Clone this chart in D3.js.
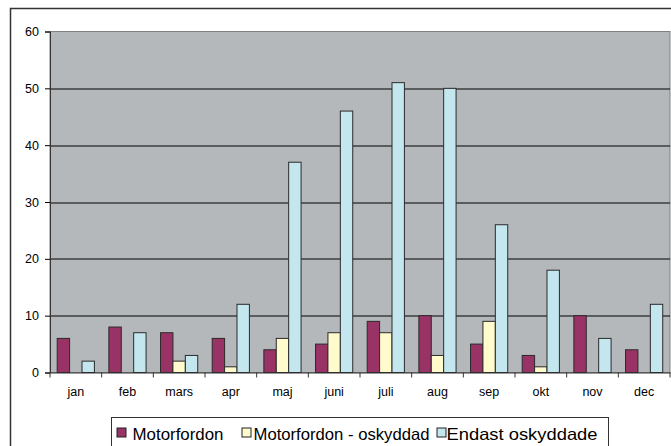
<!DOCTYPE html>
<html>
<head>
<meta charset="utf-8">
<script src="https://cdn.jsdelivr.net/npm/d3@7"></script>
<style>
  body { margin: 0; background: #fff; }
  svg { display: block; font-family: "Liberation Sans", Arial, sans-serif; }
</style>
</head>
<body>
<svg width="671" height="446"></svg>
<script>
const months = ['jan', 'feb', 'mars', 'apr', 'maj', 'juni', 'juli', 'aug', 'sep', 'okt', 'nov', 'dec'];
const seriesNames = ['Motorfordon', 'Motorfordon - oskyddad', 'Endast oskyddade'];
const motorfordon = [6, 8, 7, 6, 4, 5, 9, 10, 5, 3, 10, 4];
const motorOskyddad = [0, 0, 2, 1, 6, 7, 7, 3, 9, 1, 0, 0];
const endastOskyddade = [2, 7, 3, 12, 37, 46, 51, 50, 26, 18, 6, 12];
const yTicks = [0, 10, 20, 30, 40, 50, 60];
const colors = ['#993366', '#FFFBCC', '#C4E7EF'];

const svg = d3.select('svg');
const width = +svg.attr('width');
const height = +svg.attr('height');

const margin = { left: 50, right: 1, top: 31.5, bottom: 73.5 };
const innerWidth = width - margin.left - margin.right;
const innerHeight = height - margin.top - margin.bottom;

// outer chart frame (right and bottom edges fall outside the picture)
svg.append('rect')
  .attr('x', 10.5).attr('y', 8.5)
  .attr('width', width).attr('height', height)
  .attr('fill', 'none').attr('stroke', '#333').attr('stroke-width', 1.5);

const data = months.map((m, i) => ({
  month: m,
  values: [motorfordon[i], motorOskyddad[i], endastOskyddade[i]]
}));

const xScale = d3.scaleBand().domain(months).range([0, innerWidth]);
const xInner = d3.scaleBand().domain(d3.range(3))
  .range([7.2, 7.2 + 37.2]);
const yScale = d3.scaleLinear().domain([0, 60]).range([innerHeight, 0]);

const g = svg.append('g')
  .attr('transform', `translate(${margin.left}, ${margin.top})`);

g.append('rect')
  .attr('width', innerWidth).attr('height', innerHeight)
  .attr('fill', '#B5B8BB').attr('stroke', '#808080');

// gridlines
g.append('g').selectAll('line')
  .data(yTicks.filter(t => t > 0 && t < 60))
  .enter().append('line')
  .attr('x1', 0).attr('x2', innerWidth)
  .attr('y1', d => Math.round(yScale(d)) + 0.5)
  .attr('y2', d => Math.round(yScale(d)) + 0.5)
  .attr('stroke', '#000');

// bars
const groups = g.selectAll('.grp')
  .data(data).enter().append('g')
  .attr('transform', d => `translate(${xScale(d.month)}, 0)`);

groups.selectAll('rect')
  .data(d => d.values.map((v, i) => ({ v, i })).filter(e => e.v > 0))
  .enter().append('rect')
  .attr('x', e => xInner(e.i))
  .attr('width', xInner.bandwidth())
  .attr('y', e => yScale(e.v))
  .attr('height', e => innerHeight - yScale(e.v))
  .attr('fill', e => colors[e.i])
  .attr('stroke', '#2a2a2a')
  .attr('stroke-width', 1);

// y axis
const yAxis = d3.axisLeft(yScale).tickValues(yTicks).tickSize(5).tickPadding(6);
const yG = g.append('g').call(yAxis);
yG.select('.domain').attr('stroke', '#333');
yG.selectAll('text').attr('font-size', '12.5px').attr('fill', '#000')
  .attr('font-family', '"Liberation Sans", Arial, sans-serif');

// x axis
const xAxis = d3.axisBottom(xScale).tickSize(0).tickPadding(15);
const xG = g.append('g').attr('transform', `translate(0, ${innerHeight})`).call(xAxis);
xG.select('.domain').attr('stroke', '#333');
xG.selectAll('text').attr('font-size', '12.5px').attr('fill', '#000')
  .attr('font-family', '"Liberation Sans", Arial, sans-serif');
xG.append('g').selectAll('line')
  .data(months.map(m => xScale(m)).concat([innerWidth]))
  .enter().append('line')
  .attr('x1', d => d).attr('x2', d => d)
  .attr('y1', 0).attr('y2', 5)
  .attr('stroke', '#333');

// legend
const legend = svg.append('g');
legend.append('rect')
  .attr('x', 111.5).attr('y', 417.5)
  .attr('width', 497).attr('height', 40)
  .attr('fill', '#fff').attr('stroke', '#333');
const legendSq = [116.5, 241.5, 436.5];
const legendTx = [132.5, 253.5, 446.5];
const legendW = [91, 176, 151];
seriesNames.forEach((name, i) => {
  legend.append('rect')
    .attr('x', legendSq[i] + 0.5).attr('y', 428)
    .attr('width', 9).attr('height', 9)
    .attr('fill', colors[i]).attr('stroke', '#222');
  legend.append('text')
    .attr('x', legendTx[i]).attr('y', 439.5)
    .attr('font-size', '16.5px')
    .attr('textLength', legendW[i])
    .attr('lengthAdjust', 'spacingAndGlyphs')
    .text(name);
});
</script>
</body>
</html>
